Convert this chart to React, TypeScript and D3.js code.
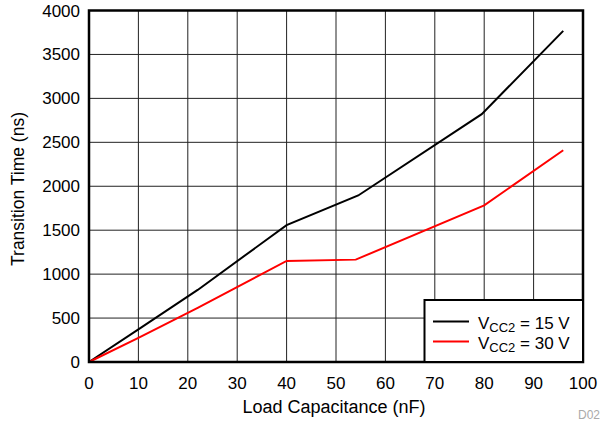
import React from "react";
import * as d3 from "d3";

const xTicks = [0, 10, 20, 30, 40, 50, 60, 70, 80, 90, 100];
const yTicks = [0, 500, 1000, 1500, 2000, 2500, 3000, 3500, 4000];
const capacitance15 = [0, 10, 22, 40, 54.5, 79.5, 96];
const time15 = [0, 372, 820, 1558, 1895, 2820, 3768];
const capacitance30 = [0, 10, 22, 40, 54, 80, 96];
const time30 = [0, 275, 615, 1150, 1165, 1782, 2410];
const seriesLabels = ["15 V", "30 V"];
const seriesColors = ["#000000", "#ff0000"];

const W = 600, H = 425;
const M = { left: 89, right: 583, top: 10.5, bottom: 362 };

export default function App() {
  const x = d3.scaleLinear().domain([0, 100]).range([M.left, M.right]);
  const y = d3.scaleLinear().domain([0, 4000]).range([M.bottom, M.top]);
  const line = d3.line<[number, number]>().x(d => x(d[0])).y(d => y(d[1]));
  const s15 = capacitance15.map((c, i) => [c, time15[i]] as [number, number]);
  const s30 = capacitance30.map((c, i) => [c, time30[i]] as [number, number]);
  const font = "'Liberation Sans', Arial, Helvetica, sans-serif";
  const lg = { x: 424.5, y: 300, w: M.right - 424.5, h: M.bottom - 300 };
  return (
    <svg width={W} height={H} style={{ position: "fixed", left: 0, top: 0 }} fontFamily={font}>
      <rect x={0} y={0} width={W} height={H} fill="#fff" />
      {xTicks.map(t => (
        <line key={"gx" + t} x1={x(t)} x2={x(t)} y1={M.top} y2={M.bottom} stroke="#222" strokeWidth={1} />
      ))}
      {yTicks.map(t => (
        <line key={"gy" + t} x1={M.left} x2={M.right} y1={y(t)} y2={y(t)} stroke="#222" strokeWidth={1} />
      ))}
      <path d={line(s15) || ""} fill="none" stroke={seriesColors[0]} strokeWidth={2} />
      <path d={line(s30) || ""} fill="none" stroke={seriesColors[1]} strokeWidth={2} />
      <rect x={M.left} y={M.top} width={M.right - M.left} height={M.bottom - M.top} fill="none" stroke="#000" strokeWidth={2.5} />
      {xTicks.map(t => (
        <text key={"tx" + t} x={x(t)} y={389} fontSize={17} textAnchor="middle" fill="#000">{t}</text>
      ))}
      {yTicks.map(t => (
        <text key={"ty" + t} x={80} y={y(t) + 6} fontSize={17} textAnchor="end" fill="#000">{t}</text>
      ))}
      <text x={334} y={413} fontSize={18} textAnchor="middle" fill="#000">Load Capacitance (nF)</text>
      <text transform={`translate(24,189) rotate(-90)`} fontSize={17.5} textAnchor="middle" fill="#000">Transition Time (ns)</text>
      <text x={578} y={419} fontSize={12} fill="#aaa">D024</text>
      <rect x={lg.x} y={lg.y} width={lg.w} height={lg.h} fill="#fff" stroke="#000" strokeWidth={2} />
      {seriesLabels.map((s, i) => {
        const ry = 321.5 + i * 20;
        return (
          <g key={s}>
            <line x1={433} x2={469} y1={ry} y2={ry} stroke={seriesColors[i]} strokeWidth={2} />
            <text x={478} y={ry + 7} fontSize={17} fill="#000">
              V<tspan fontSize={13} dy={3}>CC2</tspan><tspan dy={-3}> = {s}</tspan>
            </text>
          </g>
        );
      })}
    </svg>
  );
}
